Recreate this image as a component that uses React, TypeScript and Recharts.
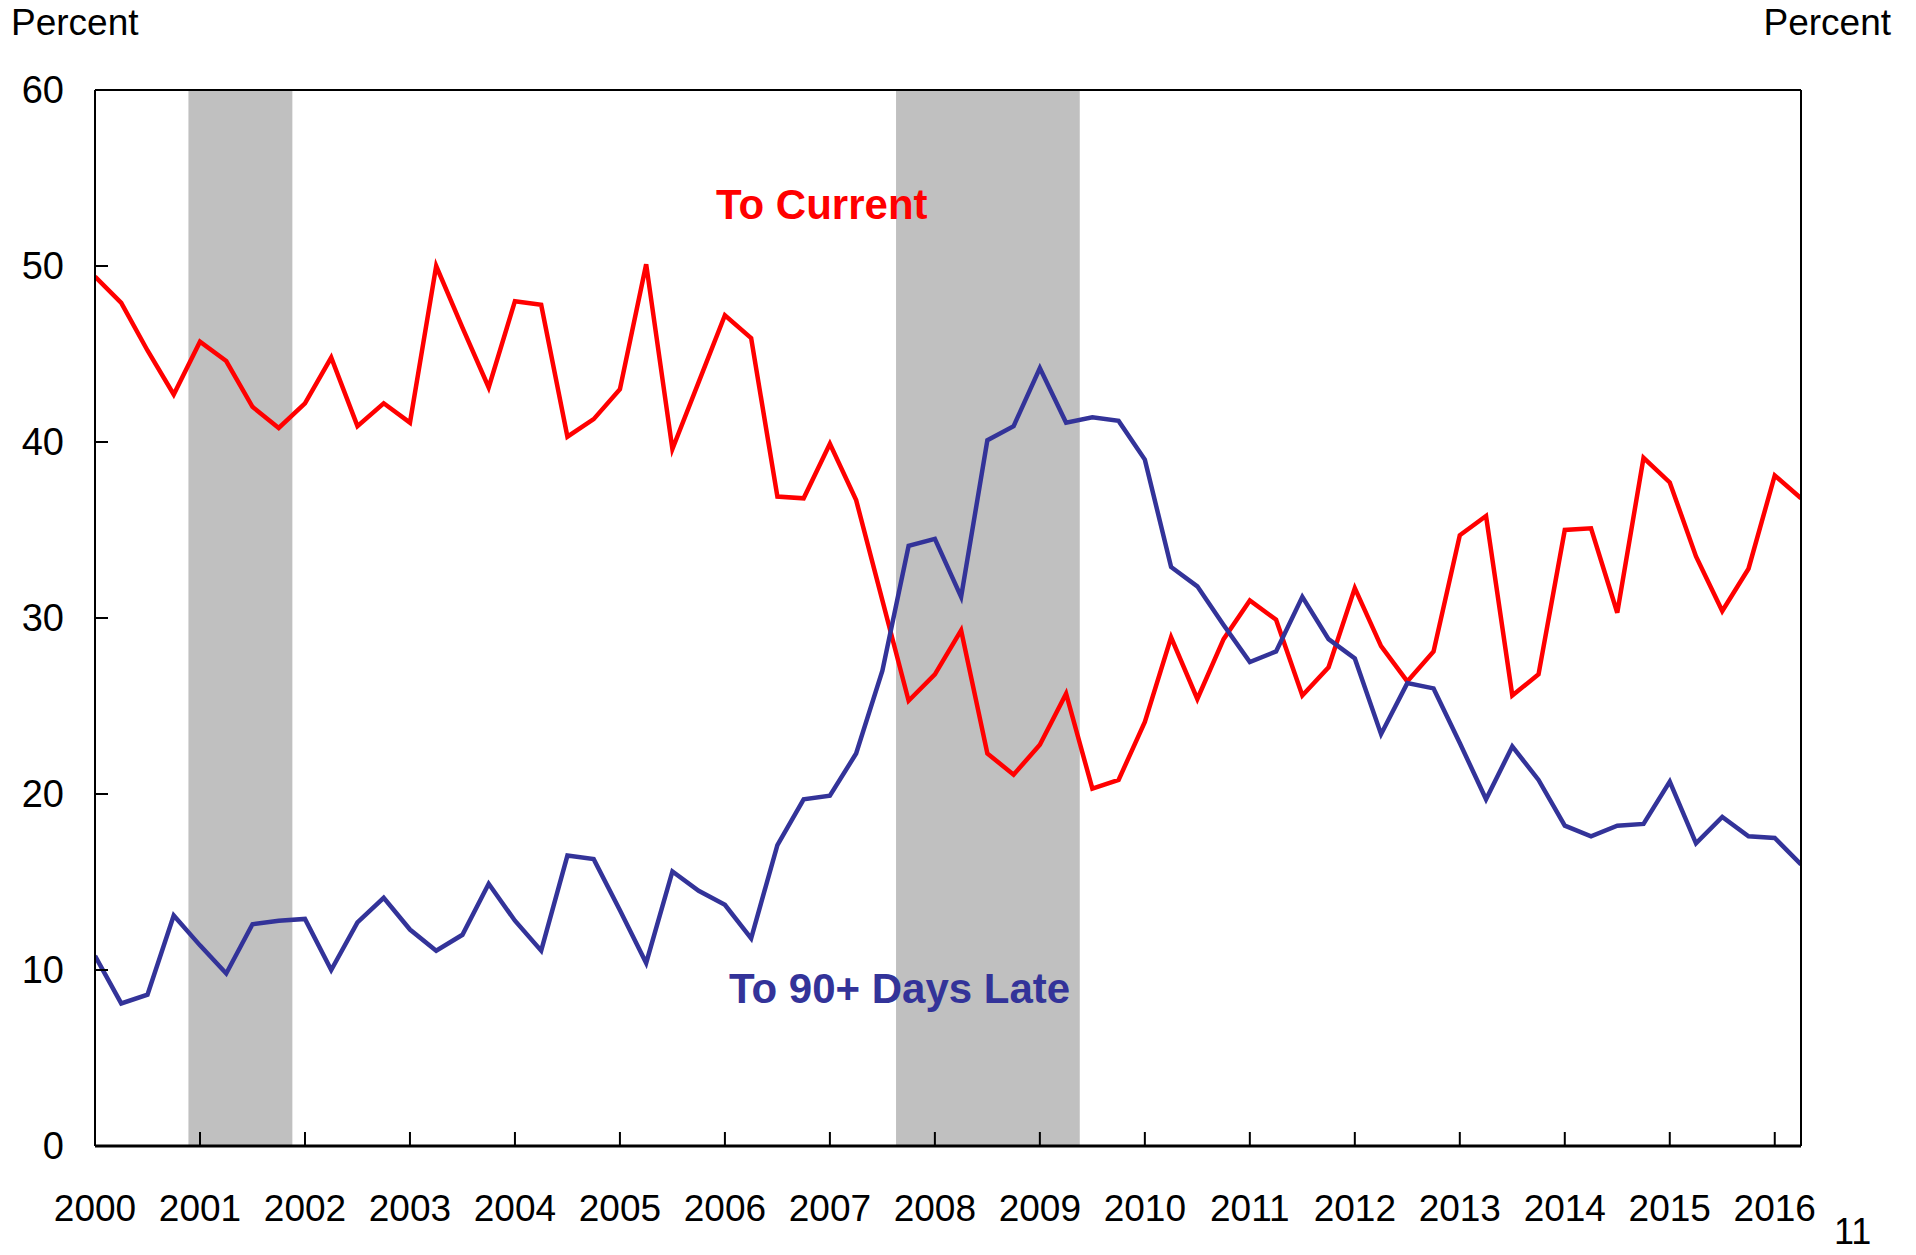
import React from 'react';
import { LineChart, Line, XAxis, YAxis, ReferenceArea, ReferenceLine } from 'recharts';

const startYear = 2000;
const years = [2000, 2001, 2002, 2003, 2004, 2005, 2006, 2007, 2008, 2009, 2010, 2011, 2012, 2013, 2014, 2015, 2016];
const yTicks = [0, 10, 20, 30, 40, 50, 60];

// quarterly, 2000Q1 .. 2016Q2
const toCurrent = [
  49.4, 47.9, 45.2, 42.7,
  45.7, 44.6, 42.0, 40.8,
  42.2, 44.8, 40.9, 42.2,
  41.1, 50.0, 46.5, 43.1,
  48.0, 47.8, 40.3, 41.3,
  43.0, 50.1, 39.6, 43.4,
  47.2, 45.9, 36.9, 36.8,
  39.9, 36.7, 31.0, 25.3,
  26.8, 29.3, 22.3, 21.1,
  22.8, 25.7, 20.3, 20.8,
  24.1, 28.9, 25.4, 28.8,
  31.0, 29.9, 25.6, 27.2,
  31.7, 28.4, 26.4, 28.1,
  34.7, 35.8, 25.6, 26.8,
  35.0, 35.1, 30.3, 39.1,
  37.7, 33.5, 30.4, 32.8,
  38.1, 36.8,
];

const to90Late = [
  10.8, 8.1, 8.6, 13.1,
  11.4, 9.8, 12.6, 12.8,
  12.9, 10.0, 12.7, 14.1,
  12.3, 11.1, 12.0, 14.9,
  12.8, 11.1, 16.5, 16.3,
  13.4, 10.4, 15.6, 14.5,
  13.7, 11.8, 17.1, 19.7,
  19.9, 22.3, 27.0, 34.1,
  34.5, 31.2, 40.1, 40.9,
  44.2, 41.1, 41.4, 41.2,
  39.0, 32.9, 31.8, 29.6,
  27.5, 28.1, 31.2, 28.8,
  27.7, 23.4, 26.3, 26.0,
  22.9, 19.7, 22.7, 20.8,
  18.2, 17.6, 18.2, 18.3,
  20.7, 17.2, 18.7, 17.6,
  17.5, 16.0,
];

const recessions = [
  [2000.89, 2001.88],
  [2007.63, 2009.38],
];

const data = toCurrent.map((v, i) => ({
  x: startYear + i / 4,
  current: v,
  late: to90Late[i],
}));

const font = '"Liberation Sans", Arial, sans-serif';
const RED = '#FF0000';
const BLUE = '#333399';

const XTick = (props: any) => {
  const { x, y, payload } = props;
  return (
    <g>
      <line x1={x} y1={y} x2={x} y2={y - 14} stroke="#000" strokeWidth={2} />
      <text x={x} y={y + 75} textAnchor="middle" fontFamily={font} fontSize={37} fill="#000">
        {payload.value}
      </text>
    </g>
  );
};

const LeftTick = (props: any) => {
  const { x, y, payload } = props;
  return (
    <g>
      <line x1={x} y1={y} x2={x + 13} y2={y} stroke="#000" strokeWidth={2} />
      <text x={x - 31} y={y + 13} textAnchor="end" fontFamily={font} fontSize={38} fill="#000">
        {payload.value}
      </text>
    </g>
  );
};

const RightTick = (props: any) => {
  const { x, y, payload } = props;
  return (
    <g>
      <line x1={x} y1={y} x2={x - 13} y2={y} stroke="#000" strokeWidth={2} />
      <text x={x + 30} y={y + 13} textAnchor="start" fontFamily={font} fontSize={38} fill="#000">
        {payload.value}
      </text>
    </g>
  );
};

export default function App() {
  return (
    <div style={{ position: 'relative', width: 1916, height: 1255, background: '#fff' }}>
      <style>{`body{margin:0}`}</style>
      <LineChart width={1916} height={1255} data={data} margin={{ top: 90, right: 0, bottom: 0, left: 0 }}>
        {recessions.map(([a, b]) => (
          <ReferenceArea
            key={a}
            yAxisId="left"
            x1={a}
            x2={b}
            y1={0}
            y2={60}
            fill="#C0C0C0"
            fillOpacity={1}
            stroke="none"
          />
        ))}
        <ReferenceLine yAxisId="left" y={60} stroke="#000" strokeWidth={2} />
        <XAxis
          dataKey="x"
          type="number"
          domain={[2000, 2016.25]}
          ticks={years}
          height={109}
          tickSize={0}
          tickMargin={0}
          tickLine={false}
          axisLine={{ stroke: '#000', strokeWidth: 3 }}
          tick={<XTick />}
          interval={0}
          allowDataOverflow
        />
        <YAxis
          yAxisId="left"
          orientation="left"
          width={95}
          domain={[0, 60]}
          ticks={yTicks}
          tickSize={0}
          tickMargin={0}
          tickLine={false}
          axisLine={{ stroke: '#000', strokeWidth: 2 }}
          tick={<LeftTick />}
          interval={0}
        />
        <YAxis
          yAxisId="right"
          orientation="right"
          width={115}
          domain={[0, 60]}
          ticks={yTicks}
          tickSize={0}
          tickMargin={0}
          tickLine={false}
          axisLine={{ stroke: '#000', strokeWidth: 2 }}
          tick={<RightTick />}
          interval={0}
        />
        <Line
          yAxisId="left"
          type="linear"
          dataKey="current"
          stroke={RED}
          strokeWidth={4.5}
          dot={false}
          isAnimationActive={false}
        />
        <Line
          yAxisId="left"
          type="linear"
          dataKey="late"
          stroke={BLUE}
          strokeWidth={4.5}
          dot={false}
          isAnimationActive={false}
        />
      </LineChart>
      <svg
        width={1916}
        height={1255}
        style={{ position: 'absolute', left: 0, top: 0, pointerEvents: 'none' }}
      >
        <text x={11} y={35} fontFamily={font} fontSize={37} fill="#000">Percent</text>
        <text x={1891} y={35} textAnchor="end" fontFamily={font} fontSize={37} fill="#000">Percent</text>
        <text x={716} y={219} fontFamily={font} fontSize={42} fontWeight="bold" fill={RED}>To Current</text>
        <text x={729} y={1003} fontFamily={font} fontSize={42} fontWeight="bold" fill={BLUE}>To 90+ Days Late</text>
        <text x={1834} y={1244} fontFamily={font} fontSize={36} fill="#000">11</text>
      </svg>
    </div>
  );
}
